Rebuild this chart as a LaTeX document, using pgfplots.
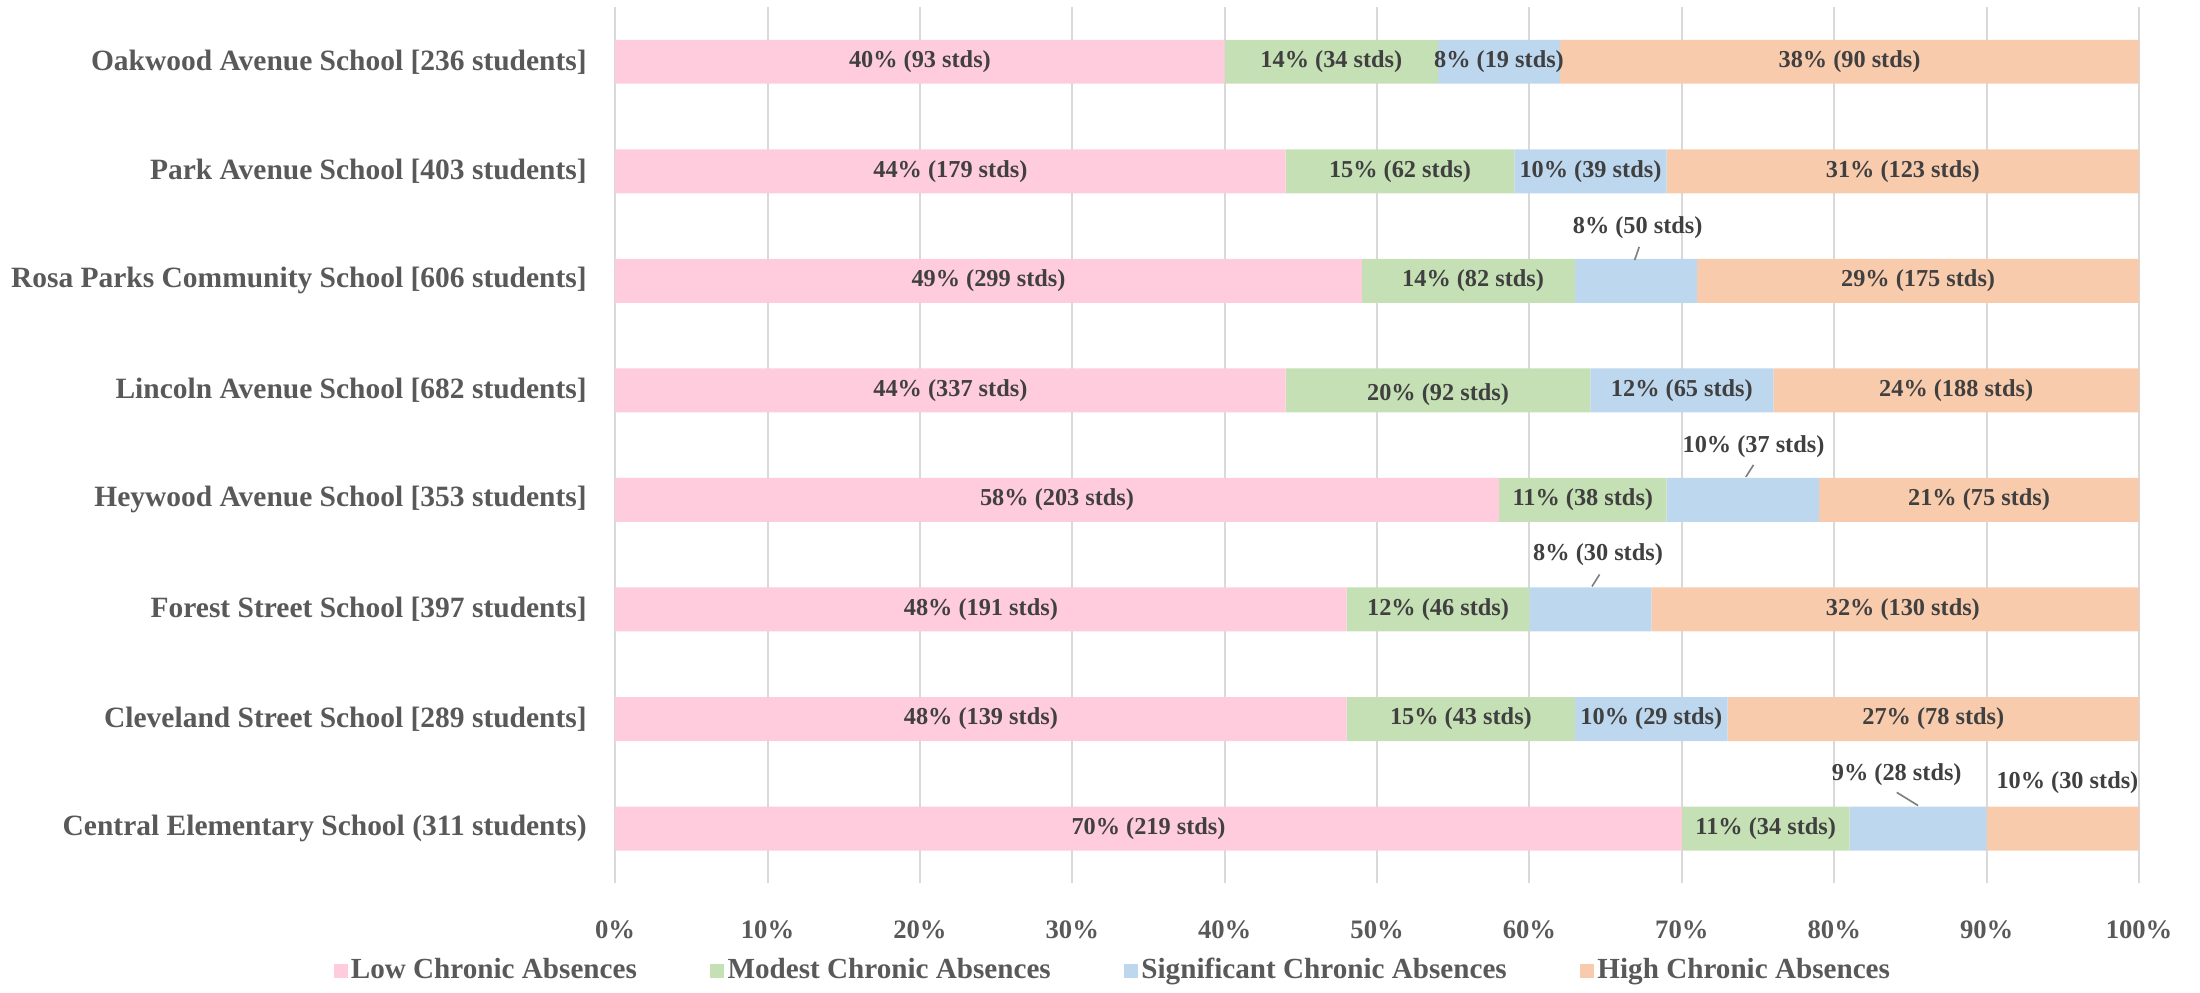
\documentclass[border=0pt]{standalone}
\usepackage{fontspec}
\setmainfont{Liberation Serif}
\usepackage{pgfplots}
\pgfplotsset{compat=1.18}
\definecolor{cLow}{HTML}{FFCCDD}
\definecolor{cMod}{HTML}{C5E0B4}
\definecolor{cSig}{HTML}{BDD7EE}
\definecolor{cHigh}{HTML}{F8CBAD}
\definecolor{txt}{HTML}{595959}
\definecolor{lbl}{HTML}{404040}
\definecolor{grd}{HTML}{D9D9D9}
\definecolor{lead}{HTML}{808080}
\pgfplotsset{base/.style={scale only axis, width=457.5bp, height=263.1bp,
  xmin=0, xmax=100, ymin=-0.5, ymax=7.5, clip=false},
  sq/.style={legend image code/.code={\fill[##1] (0bp,-2.1bp) rectangle (4.2bp,2.1bp);}}}
\begin{document}
\begin{tikzpicture}
\begin{axis}[base, xbar stacked, bar width=13.2bp,
  axis line style={draw=none},
  xtick={0,10,20,30,40,50,60,70,80,90,100},
  xticklabels={0\%,10\%,20\%,30\%,40\%,50\%,60\%,70\%,80\%,90\%,100\%},
  ytick={0,1,2,3,4,5,6,7},
  yticklabels={Central Elementary School (311 students),
    Cleveland Street School [289 students],
    Forest Street School [397 students],
    Heywood Avenue School [353 students],
    Lincoln Avenue School [682 students],
    Rosa Parks Community School [606 students],
    Park Avenue School [403 students],
    Oakwood Avenue School [236 students]},
  tick style={draw=none},
  xmajorgrids, major grid style={grd, line width=0.6bp},
  yticklabel style={font=\fontsize{8.85bp}{10bp}\selectfont\bfseries, text=txt, xshift=-5bp},
  xticklabel style={font=\fontsize{8bp}{9bp}\selectfont\bfseries, text=txt, yshift=-7.7bp},
  legend style={at={(0.327,-0.1)}, anchor=center, draw=none, fill=none, inner sep=0pt,
    legend columns=4, font=\fontsize{8.75bp}{10bp}\selectfont\bfseries, text=txt,
    nodes={inner sep=1bp},
    /tikz/every even column/.append style={column sep=21bp}},
  legend cell align=left,
]
\addplot[fill=cLow, draw=none, sq]
  coordinates {(70,0) (48,1) (48,2) (58,3) (44,4) (49,5) (44,6) (40,7)};
\addplot[fill=cMod, draw=none, sq]
  coordinates {(11,0) (15,1) (12,2) (11,3) (20,4) (14,5) (15,6) (14,7)};
\addplot[fill=cSig, draw=none, sq]
  coordinates {(9,0) (10,1) (8,2) (10,3) (12,4) (8,5) (10,6) (8,7)};
\addplot[fill=cHigh, draw=none, sq]
  coordinates {(10,0) (27,1) (32,2) (21,3) (24,4) (29,5) (31,6) (38,7)};
\legend{Low Chronic Absences, Modest Chronic Absences, Significant Chronic Absences, High Chronic Absences}
\coordinate (bl) at (axis description cs:-0.4026,-0.1243);
\coordinate (tr) at (axis description cs:1.04,1.008);
\end{axis}
\begin{axis}[base, hide axis]
\addplot[draw=none, mark=none, nodes near coords, point meta=explicit symbolic,
  nodes near coords align=center,
  every node near coord/.append style={font=\fontsize{7.3bp}{8bp}\selectfont\bfseries, text=lbl, inner sep=0pt}]
  coordinates {
  (20,7) [40\% (93 stds)] (47,7) [14\% (34 stds)] (58,7) [8\% (19 stds)] (81,7) [38\% (90 stds)]
  (22,6) [44\% (179 stds)] (51.5,6) [15\% (62 stds)] (64,6) [10\% (39 stds)] (84.5,6) [31\% (123 stds)]
  (24.5,5) [49\% (299 stds)] (56.3,5) [14\% (82 stds)] (67.1,5.49) [8\% (50 stds)] (85.5,5) [29\% (175 stds)]
  (22,4) [44\% (337 stds)] (54,3.96) [20\% (92 stds)] (70,4) [12\% (65 stds)] (88,4) [24\% (188 stds)]
  (29,3) [58\% (203 stds)] (63.5,3) [11\% (38 stds)] (74.7,3.49) [10\% (37 stds)] (89.5,3) [21\% (75 stds)]
  (24,2) [48\% (191 stds)] (54,2) [12\% (46 stds)] (64.5,2.5) [8\% (30 stds)] (84.5,2) [32\% (130 stds)]
  (24,1) [48\% (139 stds)] (55.5,1) [15\% (43 stds)] (68,1) [10\% (29 stds)] (86.5,1) [27\% (78 stds)]
  (35,0) [70\% (219 stds)] (75.5,0) [11\% (34 stds)] (84.1,0.49) [9\% (28 stds)] (95.3,0.42) [10\% (30 stds)]
  };
\addplot[lead, line width=0.5bp] coordinates {(67.2,5.31) (66.9,5.19)};
\addplot[lead, line width=0.5bp] coordinates {(74.7,3.32) (74.2,3.21)};
\addplot[lead, line width=0.5bp] coordinates {(64.6,2.32) (64.1,2.21)};
\addplot[lead, line width=0.5bp] coordinates {(84.1,0.33) (85.5,0.21)};
\end{axis}
\path (bl) rectangle (tr);
\end{tikzpicture}
\end{document}
